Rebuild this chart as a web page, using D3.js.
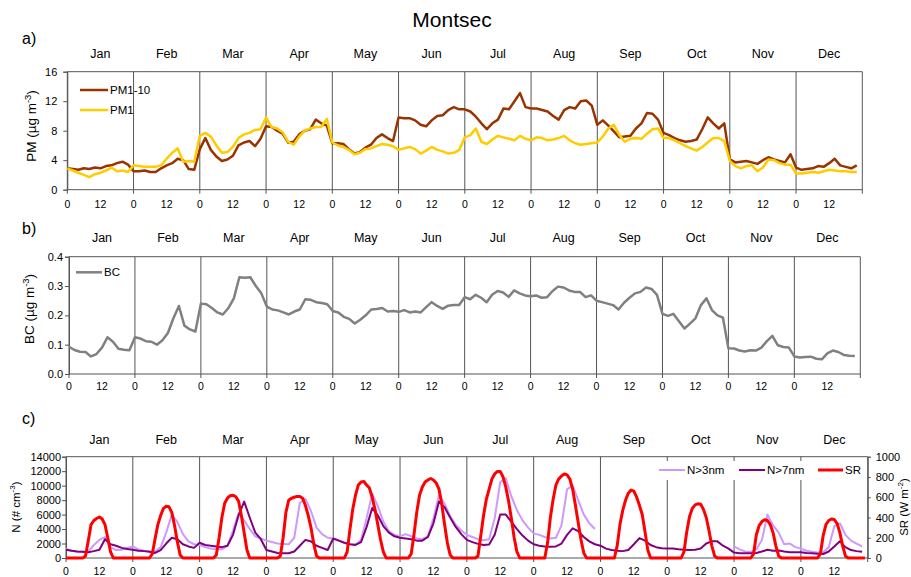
<!DOCTYPE html>
<html>
<head>
<meta charset="utf-8">
<script src="https://cdn.jsdelivr.net/npm/d3@7"></script>
<style>
  body { margin: 0; background: #fff; }
  svg { display: block; }
  text { font-family: Arial, "Liberation Sans", sans-serif; fill: #000; }
</style>
</head>
<body>
<svg id="chart" width="911" height="577"></svg>
<script>
// months and hour labels
var months = ["Jan", "Feb", "Mar", "Apr", "May", "Jun", "Jul", "Aug", "Sep", "Oct", "Nov", "Dec"];
var hourLabels = [0, 12];

// a) PM, every 2 h (0,2,...,22) for each month, ug m-3
var pm110 = [
  2.9,2.8,2.7,2.9,2.8,3.0,2.9,3.2,3.3,3.6,3.8,3.4,
  2.5,2.5,2.6,2.4,2.4,2.9,3.3,3.6,4.2,4.0,2.8,2.7,
  5.5,7.0,5.4,4.5,3.9,4.1,4.6,6.0,6.4,6.6,5.9,6.9,
  8.6,8.5,8.0,7.6,6.4,6.5,7.5,8.0,8.2,9.5,9.0,8.7,
  6.3,6.3,6.2,5.5,4.9,5.1,5.7,6.1,7.0,7.5,7.0,6.6,
  9.8,9.7,9.7,9.4,8.8,8.6,9.4,10.0,10.1,10.8,11.2,10.9,
  10.9,10.6,9.9,9.0,8.2,9.0,9.5,11.0,10.9,12.0,13.1,11.2,
  11.0,11.0,10.8,10.6,10.0,9.5,10.8,11.2,11.0,12.0,12.1,11.4,
  8.8,9.4,8.7,7.9,7.1,7.2,7.3,8.3,9.0,10.4,10.3,9.5,
  7.7,7.4,7.0,6.7,6.5,6.6,6.8,8.2,9.8,9.0,8.3,9.0,
  4.1,3.7,3.8,3.9,3.7,3.5,4.0,4.4,4.1,3.9,3.7,4.8,
  3.0,2.7,2.8,2.9,3.2,3.1,3.6,4.2,3.3,3.1,2.9,3.3
];
var pm1 = [
  2.9,2.6,2.3,2.0,1.7,2.1,2.3,2.6,3.0,2.5,2.6,2.4,
  3.3,3.2,3.1,3.1,3.1,3.3,4.2,5.0,5.6,3.8,3.9,3.8,
  7.3,7.7,7.2,6.0,5.0,5.1,5.8,7.0,7.5,7.7,8.1,8.2,
  9.8,8.5,8.3,7.8,6.5,6.1,7.2,8.0,8.3,8.5,8.5,9.6,
  6.4,6.0,5.8,5.4,4.8,5.0,5.5,5.6,5.9,6.2,6.1,5.9,
  5.4,5.6,5.8,5.5,4.9,5.3,5.8,5.4,5.2,4.9,5.0,5.4,
  7.1,7.4,8.3,6.5,6.2,6.8,7.3,7.1,6.9,6.7,7.3,6.9,
  6.7,7.1,7.0,6.7,6.8,7.0,7.3,6.7,6.3,6.1,6.2,6.3,
  6.4,7.2,8.3,8.8,7.4,6.5,6.9,7.0,6.9,7.6,8.2,8.3,
  7.0,7.0,6.7,6.3,5.9,5.6,5.3,5.8,6.4,7.0,7.0,6.6,
  3.9,3.2,2.9,3.2,3.3,2.5,3.0,4.1,4.0,3.6,3.4,3.4,
  2.2,2.2,2.3,2.4,2.3,2.5,2.7,2.6,2.5,2.5,2.4,2.4
];

// b) BC, every 2 h, ug m-3
var bc = [
  0.093,0.082,0.076,0.075,0.060,0.068,0.090,0.125,0.110,0.086,0.083,0.081,
  0.125,0.121,0.112,0.110,0.100,0.115,0.140,0.190,0.232,0.165,0.152,0.145,
  0.240,0.238,0.225,0.210,0.203,0.225,0.258,0.330,0.328,0.330,0.300,0.275,
  0.230,0.220,0.217,0.210,0.203,0.213,0.220,0.255,0.253,0.245,0.242,0.238,
  0.215,0.210,0.195,0.188,0.172,0.185,0.200,0.220,0.222,0.225,0.213,0.215,
  0.212,0.218,0.210,0.213,0.210,0.228,0.245,0.232,0.222,0.233,0.235,0.235,
  0.262,0.255,0.270,0.260,0.245,0.270,0.283,0.278,0.263,0.285,0.275,0.268,
  0.265,0.268,0.260,0.262,0.283,0.298,0.295,0.285,0.280,0.280,0.262,0.268,
  0.250,0.245,0.240,0.235,0.220,0.243,0.260,0.275,0.280,0.295,0.290,0.270,
  0.205,0.198,0.205,0.180,0.155,0.172,0.190,0.235,0.258,0.218,0.200,0.192,
  0.088,0.087,0.080,0.077,0.081,0.080,0.090,0.112,0.130,0.098,0.092,0.090,
  0.060,0.056,0.058,0.059,0.052,0.050,0.070,0.080,0.075,0.065,0.062,0.061
];

// c) particle number, every 2 h, # cm-3 (no N>3nm data in Sep and Oct)
var n3 = [
  1300,1000,900,850,900,1800,2500,2900,1500,1100,1150,1400,
  1600,1200,1000,900,900,1500,3500,6000,5000,3300,2300,1900,
  1800,1500,1300,1200,1200,1700,3800,6200,5200,4000,3000,2700,
  2400,2200,2000,1950,1900,2800,7600,8200,6500,4200,3300,2800,
  2700,2400,2100,1900,1850,2500,5500,8900,7200,5000,3700,3200,
  3000,3300,3000,2700,2600,3000,5500,8700,7500,5800,4600,3800,
  3200,2900,2600,2450,2600,5500,10500,11000,8500,6600,5200,4200,
  3400,3200,2900,2700,2800,4500,9500,10000,8000,6000,4800,4000,
  null,null,null,null,null,null,null,null,null,null,null,null,
  null,null,null,null,null,null,null,null,null,null,null,null,
  1600,1200,900,850,1200,2500,6000,4500,3500,1900,2000,1500,
  1300,1000,850,750,800,1500,4400,4800,3200,2400,2000,1600
];
var n7 = [
  1150,1000,900,850,800,950,1150,2600,1900,1700,1400,1250,
  1150,1000,950,850,700,1100,2000,2800,2600,1900,1600,1400,
  2100,1800,1700,1600,1500,1700,3200,5900,7800,5600,3500,2600,
  1100,900,700,650,650,900,1700,2500,2300,1700,1400,1100,
  2700,2400,2100,1900,1800,2200,4300,6900,5900,4400,3500,3000,
  2800,2700,2600,2400,2400,2900,4800,7800,7000,5600,4300,3300,
  2500,2200,1950,1800,1850,3200,6000,6000,5000,4000,3100,2400,
  1900,1700,1600,1550,1600,2000,3200,4100,3700,2900,2300,1900,
  1700,1300,1100,1000,950,1100,1900,2750,2400,1800,1500,1350,
  1300,1300,1200,1150,1100,1150,1300,2000,2300,2300,1700,1300,
  750,650,650,650,700,900,1150,1000,1050,900,800,800,
  800,700,650,600,550,900,1600,2300,1500,1100,950,850
];

// c) solar radiation, hourly (0..23) for each month, W m-2
var sr = [
  0,0,0,0,0,0,0,20,170,330,370,390,405,385,330,200,60,0,0,0,0,0,0,0,
  0,0,0,0,0,0,0,40,190,330,420,490,510,505,450,320,160,30,0,0,0,0,0,0,
  0,0,0,0,0,0,30,200,400,540,590,615,620,605,560,420,250,80,0,0,0,0,0,0,
  0,0,0,0,0,20,200,450,570,590,600,608,607,590,520,420,300,140,20,0,0,0,0,0,
  0,0,0,0,0,60,280,480,620,720,750,755,720,690,600,480,330,180,60,0,0,0,0,0,
  0,0,0,0,40,230,450,620,700,750,770,785,770,740,680,530,330,150,30,0,0,0,0,0,
  0,0,0,0,20,220,420,580,680,780,830,855,855,800,700,560,390,200,60,0,0,0,0,0,
  0,0,0,0,0,150,400,580,720,780,810,830,820,780,680,520,350,180,50,0,0,0,0,0,
  0,0,0,0,0,0,120,330,470,570,640,670,660,600,520,430,260,80,0,0,0,0,0,0,
  0,0,0,0,0,0,60,260,410,490,525,535,530,480,400,270,120,20,0,0,0,0,0,0,
  0,0,0,0,0,0,0,40,230,320,360,378,370,330,250,120,20,0,0,0,0,0,0,0,
  0,0,0,0,0,0,0,40,220,330,370,385,380,340,250,120,20,0,0,0,0,0,0,0
];

var svg = d3.select("#chart");
var NARROW = '"Liberation Sans Narrow", "Arial Narrow", Arial, sans-serif';
var GRID = "#555";

svg.append("text")
  .attr("x", 452).attr("y", 27)
  .attr("text-anchor", "middle")
  .style("font-family", NARROW)
  .style("font-size", "21px")
  .text("Montsec");

// one panel: frame, month lines, axes and labels; returns the scales
function drawPanel(p) {
  var x = d3.scaleLinear().domain([0, 288]).range([p.left, p.right]);
  var y = d3.scaleLinear().domain([0, p.ymax]).range([p.bottom, p.top]);
  var g = svg.append("g");

  g.append("text")
    .attr("x", 22).attr("y", p.labelY)
    .style("font-size", "16px")
    .text(p.name);

  // month separators, running through the plot and below the axis
  g.selectAll(".mline")
    .data(d3.range(13))
    .enter()
    .append("line")
    .attr("x1", function (d) { return x(d * 24); })
    .attr("x2", function (d) { return x(d * 24); })
    .attr("y1", p.top)
    .attr("y2", p.bottom + 4)
    .attr("stroke", GRID)
    .attr("stroke-width", 1);

  g.append("line")
    .attr("x1", p.left).attr("x2", p.right)
    .attr("y1", p.top).attr("y2", p.top)
    .attr("stroke", GRID);
  g.append("line")
    .attr("x1", p.left).attr("x2", p.right)
    .attr("y1", p.bottom).attr("y2", p.bottom)
    .attr("stroke", GRID);

  var yaxis = d3.axisLeft(y)
    .tickValues(p.ticks)
    .tickSize(4)
    .tickPadding(p.pad)
    .tickFormat(p.fmt);
  var ya = g.append("g")
    .attr("transform", "translate(" + p.left + ",0)")
    .call(yaxis);
  ya.select(".domain").attr("stroke", GRID);
  ya.selectAll(".tick line").attr("stroke", GRID);
  ya.selectAll("text")
    .style("font-family", "Arial, sans-serif")
    .style("font-size", "11px")
    .attr("fill", "#000");

  g.selectAll(".month")
    .data(months)
    .enter()
    .append("text")
    .attr("x", function (d, i) { return x(i * 24 + 12); })
    .attr("y", p.monthY)
    .attr("text-anchor", "middle")
    .style("font-family", NARROW)
    .style("font-size", "12.5px")
    .text(function (d) { return d; });

  var hl = [];
  months.forEach(function (m, i) {
    hourLabels.forEach(function (h) { hl.push({ t: i * 24 + h, h: h }); });
  });
  g.selectAll(".hour")
    .data(hl)
    .enter()
    .append("text")
    .attr("x", function (d) { return x(d.t); })
    .attr("y", p.hourY)
    .attr("text-anchor", "middle")
    .style("font-family", NARROW)
    .style("font-size", "10.5px")
    .attr("fill", "#808080")
    .text(function (d) { return d.h; });

  return { x: x, y: y, g: g };
}

function axisTitle(xp, yp, main, sup, size) {
  var t = svg.append("text")
    .attr("transform", "translate(" + xp + "," + yp + ")rotate(-90)")
    .attr("text-anchor", "middle")
    .style("font-size", size);
  t.append("tspan").text(main);
  t.append("tspan").attr("dy", -5).style("font-size", "0.7em").text(sup);
  t.append("tspan").attr("dy", 5).text(")");
  return t;
}

function drawSeries(sc, values, step, color, width) {
  var line = d3.line()
    .defined(function (d) { return d != null; })
    .x(function (d, i) { return sc.x(i * step); })
    .y(function (d) { return sc.y(d); });
  sc.g.append("path")
    .attr("fill", "none")
    .attr("stroke", color)
    .attr("stroke-width", width)
    .attr("stroke-linejoin", "round")
    .attr("d", line(values));
}

function legendItem(g, x1, x2, yy, color, width, label) {
  g.append("line")
    .attr("x1", x1).attr("x2", x2)
    .attr("y1", yy).attr("y2", yy)
    .attr("stroke", color)
    .attr("stroke-width", width);
  g.append("text")
    .attr("x", x2 + 2).attr("y", yy + 4)
    .style("font-size", "11.5px")
    .text(label);
}

// ---- a) PM ----
var a = drawPanel({
  name: "a)", labelY: 44,
  left: 67.3, right: 862.3, top: 71.7, bottom: 189.7,
  ymax: 16, ticks: [0, 4, 8, 12, 16], fmt: d3.format("d"), pad: 6,
  monthY: 57.5, hourY: 208.3
});
axisTitle(36, 126, "PM (\u00b5g m", "-3", "13.5px");
drawSeries(a, pm110, 2, "#993300", 2.5);
drawSeries(a, pm1, 2, "#ffcc00", 2.5);
legendItem(a.g, 80, 108, 90, "#993300", 2.5, "PM1-10");
legendItem(a.g, 80, 108, 110, "#ffcc00", 2.5, "PM1");

// ---- b) BC ----
var b = drawPanel({
  name: "b)", labelY: 234,
  left: 69, right: 860.3, top: 256.7, bottom: 374,
  ymax: 0.4, ticks: [0, 0.1, 0.2, 0.3, 0.4], fmt: d3.format(".1f"), pad: 2,
  monthY: 242, hourY: 390
});
axisTitle(33.5, 309, "BC (\u00b5g m", "-3", "13.5px");
drawSeries(b, bc, 2, "#808080", 2.5);
legendItem(b.g, 76, 102, 272.3, "#808080", 2.5, "BC");

// ---- c) N and SR ----
var c = drawPanel({
  name: "c)", labelY: 424,
  left: 66, right: 867.7, top: 456.7, bottom: 558,
  ymax: 14000, ticks: d3.range(0, 14001, 2000), fmt: d3.format("d"), pad: 1,
  monthY: 443.5, hourY: 574.5
});
axisTitle(19.5, 507, "N (# cm", "-3", "11.5px");

var ySR = d3.scaleLinear().domain([0, 1000]).range([558, 456.7]);
var sra = c.g.append("g")
  .attr("transform", "translate(867.7,0)")
  .call(d3.axisRight(ySR)
    .tickValues(d3.range(0, 1001, 200))
    .tickSize(3)
    .tickPadding(5)
    .tickFormat(d3.format("d")));
sra.select(".domain").attr("stroke", GRID);
sra.selectAll(".tick line").attr("stroke", GRID);
sra.selectAll("text")
  .style("font-family", "Arial, sans-serif")
  .style("font-size", "11px")
  .attr("fill", "#000");
axisTitle(907.5, 507, "SR (W m", "-2", "11.5px");

drawSeries(c, n3, 2, "#cc99ff", 2);
drawSeries(c, n7, 2, "#800080", 2);
drawSeries({ x: c.x, y: ySR, g: c.g }, sr, 1, "#ff0000", 3);

c.g.append("rect")
  .attr("x", 652).attr("y", 461)
  .attr("width", 214).attr("height", 19)
  .attr("fill", "#fff");
legendItem(c.g, 659, 685, 470, "#cc99ff", 2, "N>3nm");
legendItem(c.g, 739, 765, 470, "#800080", 2, "N>7nm");
legendItem(c.g, 818, 843, 470, "#ff0000", 3, "SR");
</script>
</body>
</html>
